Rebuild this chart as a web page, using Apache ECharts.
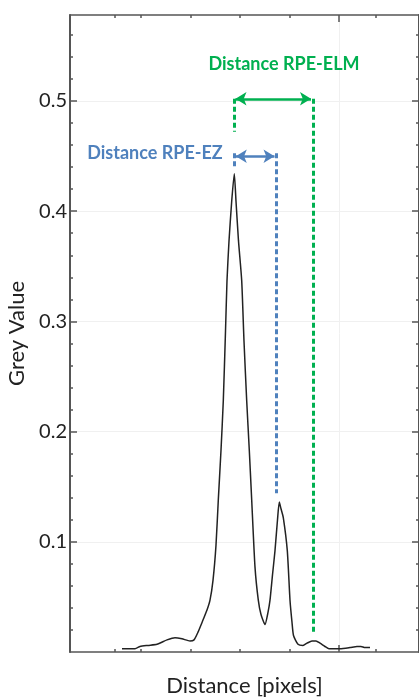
<!DOCTYPE html>
<html>
<head>
<meta charset="utf-8">
<script src="https://cdn.jsdelivr.net/npm/echarts@6/dist/echarts.min.js"></script>
<style>
  html, body { margin: 0; padding: 0; background: #fff; }
  #chart { width: 419px; height: 698px; }
</style>
</head>
<body>
<div id="chart"></div>
<script>
// profile along the scan line (x in pixels, y in grey value)
const distance = [52, 65, 70, 78, 87, 97, 105, 112, 120, 124, 128, 133, 137, 140, 143, 146, 148.3, 151, 153.3, 155.5, 157, 159, 161.7, 164.3,
  166, 168.5, 171.7, 174, 176.7, 179.3, 181.7, 185, 188.3, 191, 195, 198, 200, 202.5, 205, 207.5, 209.3, 211, 213.3, 217.3, 220,
  222, 223.5, 228, 233, 237, 242, 246, 250, 255, 259, 270, 280, 287, 291, 295, 300];
const grey = [0.003, 0.003, 0.005, 0.006, 0.007, 0.011, 0.013, 0.012, 0.010, 0.011, 0.018, 0.029, 0.038, 0.047, 0.065, 0.097, 0.138, 0.183, 0.228, 0.291, 0.337, 0.373, 0.409, 0.434,
  0.409, 0.373, 0.337, 0.282, 0.228, 0.183, 0.138, 0.077, 0.047, 0.034, 0.025, 0.036, 0.047, 0.070, 0.092, 0.120, 0.136, 0.130, 0.122, 0.092, 0.047,
  0.027, 0.015, 0.007, 0.006, 0.008, 0.010, 0.010, 0.008, 0.005, 0.003, 0.003, 0.004, 0.005, 0.005, 0.004, 0.004];

const xMax = 349;
const yMax = 0.578;
const xMinorTicks = [45, 71, 121, 170, 220, 306];
const xMajorTicks = [269];
const yLabels = [0.1, 0.2, 0.3, 0.4, 0.5];
const yMinorTicks = [0.02, 0.04, 0.06, 0.08, 0.12, 0.14, 0.16, 0.18, 0.22, 0.24, 0.26, 0.28,
  0.32, 0.34, 0.36, 0.38, 0.42, 0.44, 0.46, 0.48, 0.52, 0.54, 0.56];

// annotation positions (data coords)
const ezX = [164.3, 206];
const ezTop = 0.4525, ezLeftBottom = 0.438, ezRightBottom = 0.144, ezArrowY = 0.4498;
const elmX = [164, 243.5];
const elmTop = 0.502, elmLeftBottom = 0.472, elmRightBottom = 0.017, elmArrowY = 0.502;
const ezLabel = { text: 'Distance RPE-EZ', x: 85, y: 0.4525 };
const elmLabel = { text: 'Distance RPE-ELM', x: 214, y: 0.533 };

const green = '#00b050';
const blue = '#4f81bd';
const axisColor = '#555';
const font = 'Lato, "Open Sans", sans-serif';

const dashed = (color) => ({ color: color, width: 3, type: [5, 3] });
const arrow = (color) => ({ color: color, width: 2.5, type: 'solid' });

const xAxisBase = (position, ticks, len, showLine, extra) => Object.assign({
  type: 'value', min: 0, max: xMax, position: position,
  axisLine: { show: showLine, onZero: false, lineStyle: { color: axisColor, width: 1.5 } },
  axisTick: { show: true, inside: true, length: len, customValues: ticks, lineStyle: { color: axisColor, width: 1.5 } },
  axisLabel: { show: false },
  splitLine: { show: false }
}, extra || {});

const yAxisBase = (position, ticks, len, showLine, extra) => Object.assign({
  type: 'value', min: 0, max: yMax, position: position,
  axisLine: { show: showLine, onZero: false, lineStyle: { color: axisColor, width: 2 } },
  axisTick: { show: true, inside: true, length: len, customValues: ticks, lineStyle: { color: axisColor, width: 1.5 } },
  axisLabel: { show: false },
  splitLine: { show: false }
}, extra || {});

const chart = echarts.init(document.getElementById('chart'), null, { renderer: 'canvas' });

chart.setOption({
  animation: false,
  backgroundColor: '#fff',
  grid: { left: 70, right: 0, top: 15, bottom: 46, outerBoundsMode: 'none', containLabel: false },
  xAxis: [
    xAxisBase('bottom', xMinorTicks, 3, true, {
      name: 'Distance [pixels]', nameLocation: 'middle', nameGap: 23,
      nameTextStyle: { fontFamily: font, fontSize: 22, color: '#222' }
    }),
    xAxisBase('bottom', xMajorTicks, 7, false, {
      splitLine: { show: true, lineStyle: { color: '#f0f0f0', width: 1 } }
    }),
    xAxisBase('top', xMinorTicks, 3, true),
    xAxisBase('top', xMajorTicks, 7, false)
  ],
  yAxis: [
    yAxisBase('left', yLabels, 7, true, {
      name: 'Grey Value', nameLocation: 'middle', nameGap: 38,
      nameTextStyle: { fontFamily: font, fontSize: 22, color: '#222' },
      axisLabel: {
        show: true, customValues: yLabels, margin: 3,
        formatter: (v) => v.toFixed(1),
        fontFamily: font, fontSize: 20, color: '#222'
      },
      splitLine: { show: true, lineStyle: { color: '#f0f0f0', width: 1 } }
    }),
    yAxisBase('left', yMinorTicks, 3, false),
    yAxisBase('right', yLabels, 7, true),
    yAxisBase('right', yMinorTicks, 3, false)
  ],
  series: [
    {
      type: 'line',
      data: distance.map((d, i) => [d, grey[i]]),
      showSymbol: false,
      symbol: 'none',
      smooth: 0.2,
      lineStyle: { color: '#222', width: 1.5 },
      silent: true,
      markLine: {
        silent: true,
        symbol: 'none',
        label: { show: false },
        emphasis: { disabled: true },
        data: [
          [{ coord: [elmX[0], elmTop], lineStyle: dashed(green) }, { coord: [elmX[0], elmLeftBottom] }],
          [{ coord: [elmX[1], elmTop], lineStyle: dashed(green) }, { coord: [elmX[1], elmRightBottom] }],
          [{ coord: [ezX[0], ezTop], lineStyle: dashed(blue) }, { coord: [ezX[0], ezLeftBottom] }],
          [{ coord: [ezX[1], ezTop], lineStyle: dashed(blue) }, { coord: [ezX[1], ezRightBottom] }],
          [{ coord: [elmX[0] + 1.5, elmArrowY], lineStyle: arrow(green), symbol: 'arrow', symbolSize: [10, 11] },
           { coord: [elmX[1] - 2.5, elmArrowY], symbol: 'arrow', symbolSize: [10, 11] }],
          [{ coord: [ezX[0] + 1.5, ezArrowY], lineStyle: arrow(blue), symbol: 'arrow', symbolSize: [10, 11] },
           { coord: [ezX[1] - 1.5, ezArrowY], symbol: 'arrow', symbolSize: [10, 11] }]
        ]
      },
      markPoint: {
        silent: true,
        symbolSize: 0,
        data: [
          { coord: [elmLabel.x, elmLabel.y], label: { show: true, position: 'inside', formatter: elmLabel.text, color: green, fontFamily: font, fontWeight: 'bold', fontSize: 18 } },
          { coord: [ezLabel.x, ezLabel.y], label: { show: true, position: 'inside', formatter: ezLabel.text, color: blue, fontFamily: font, fontWeight: 'bold', fontSize: 18 } }
        ]
      }
    }
  ]
});
</script>
</body>
</html>
